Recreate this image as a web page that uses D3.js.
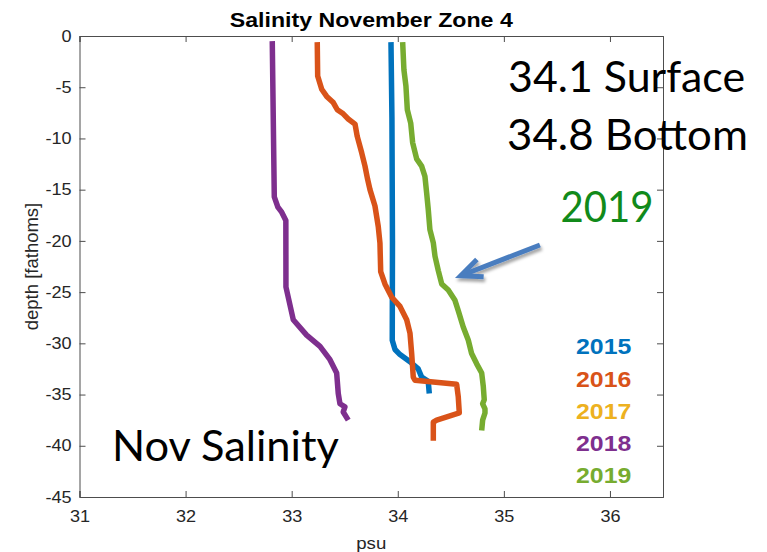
<!DOCTYPE html>
<html>
<head>
<meta charset="utf-8">
<script src="https://cdn.jsdelivr.net/npm/d3@7"></script>
<style>
  body { margin: 0; background: #fff; }
</style>
</head>
<body>
<script>

// ---- data ----
var years  = ["2015", "2016", "2017", "2018", "2019"];
var colors = ["#0072BD", "#D95319", "#EDB120", "#7E2F8E", "#77AC30"];

var psu2015   = [33.936, 33.945, 33.950, 33.948, 33.974, 34.021, 34.115, 34.193, 34.225, 34.287, 34.297];
var depth2015 = [-0.6, -8, -20, -29.7, -30.6, -31.1, -31.8, -32.5, -33.3, -33.7, -34.9];

var psu2016   = [33.241, 33.245, 33.283, 33.330, 33.392, 33.430, 33.486, 33.533, 33.597, 33.618, 33.660, 33.691, 33.716, 33.738, 33.785, 33.816, 33.832, 33.839, 33.879, 33.943, 34.021, 34.084, 34.115, 34.131, 34.146, 34.162, 34.555, 34.570, 34.580, 34.367, 34.335, 34.335];
var depth2016 = [-0.6, -3.9, -5.2, -5.9, -6.5, -7.2, -7.6, -8.1, -8.6, -9.8, -11.4, -12.7, -14, -15, -16.6, -18.6, -20.2, -23.0, -24.2, -25.5, -26.4, -27.7, -29, -31, -33.3, -33.6, -34.0, -35.2, -36.8, -37.5, -37.7, -39.5];

var psu2018   = [32.817, 32.836, 32.870, 32.906, 32.945, 32.946, 33.015, 33.141, 33.267, 33.361, 33.424, 33.439, 33.455, 33.502, 33.486, 33.533];
var depth2018 = [-0.5, -15.7, -16.7, -17.2, -18.0, -24.5, -27.7, -29.2, -30.3, -31.6, -32.9, -34.9, -35.9, -36.2, -36.7, -37.5];

var psu2019   = [34.046, 34.058, 34.077, 34.090, 34.122, 34.140, 34.178, 34.225, 34.256, 34.272, 34.287, 34.303, 34.335, 34.351, 34.382, 34.414, 34.476, 34.539, 34.570, 34.617, 34.665, 34.696, 34.744, 34.791, 34.806, 34.815, 34.800, 34.822, 34.822, 34.800, 34.791];
var depth2019 = [-0.6, -3.3, -4.9, -7.2, -8.5, -10.4, -12.0, -12.7, -13.7, -15.3, -16.9, -18.9, -20.2, -21.5, -22.9, -24.2, -24.8, -25.8, -26.8, -28.4, -29.7, -31, -32, -32.9, -34.2, -35.5, -35.9, -36.4, -36.8, -37.5, -38.5];

var xTicks = [31, 32, 33, 34, 35, 36];
var yTicks = [0, -5, -10, -15, -20, -25, -30, -35, -40, -45];

// text boxes laid over the figure, in data units
var notes = [
  { text: "34.1 Surface", x: 35.04, y: -5.45,  color: "#000", len: 237 },
  { text: "34.8 Bottom",  x: 35.03, y: -11.13, color: "#000", len: 241 },
  { text: "2019",         x: 35.535, y: -18.2, color: "#118a1a", len: 93 },
  { text: "Nov Salinity", x: 31.306, y: -41.5, color: "#000", len: 227 }
];
var legendX = 35.68, legendY = [-31.08, -34.25, -37.40, -40.50, -43.63];
var arrowTail = [35.34, -20.4], arrowTip = [34.593, -23.4];

// ---- svg ----
var W = 767, H = 552;
var svg = d3.select("body").append("svg")
  .attr("width", W)
  .attr("height", H)
  .style("font-family", "'Liberation Sans', Arial, sans-serif");

var x = d3.scaleLinear().domain([31, 36.5]).range([79.5, 663]);
var y = d3.scaleLinear().domain([-45, 0]).range([497, 36]);

var stretch = 1.13;   // the matlab figure is a bit wider than tall in the slide
var axisColor = "#262626";
var plain = function(d) { return String(d); };   // hyphen minus, like matlab

// axes (box on, ticks inward)
var gx = svg.append("g").attr("transform", "translate(0," + y(-45) + ")")
  .call(d3.axisBottom(x).tickValues(xTicks).tickSize(-6).tickPadding(14).tickFormat(plain));
var gy = svg.append("g").attr("transform", "translate(" + x(31) + ",0)")
  .call(d3.axisLeft(y).tickValues(yTicks).tickSize(-6).tickPadding(7).tickFormat(plain));
var gt = svg.append("g").attr("transform", "translate(0," + y(0) + ")")
  .call(d3.axisTop(x).tickValues(xTicks).tickSize(-6).tickFormat(""));
var gr = svg.append("g").attr("transform", "translate(" + x(36.5) + ",0)")
  .call(d3.axisRight(y).tickValues(yTicks).tickSize(-6).tickFormat(""));

[gx, gy, gt, gr].forEach(function(g) {
  g.select(".domain").attr("stroke", "#4d4d4d").attr("stroke-width", 1);
  g.selectAll(".tick line").attr("stroke", "#4d4d4d");
  g.selectAll("text")
    .attr("fill", axisColor)
    .style("font-size", "16px")
    .style("font-family", "'Liberation Sans', Arial, sans-serif");
});
gx.selectAll(".tick text").attr("transform", "scale(" + stretch + ",1)");
gy.selectAll(".tick text").attr("transform", "scale(" + stretch + ",1)");

// title + axis labels
svg.append("text")
  .attr("transform", "translate(" + (x(31) + x(36.5)) / 2 + ",27) scale(" + stretch + ",1)")
  .attr("text-anchor", "middle")
  .style("font-weight", "bold")
  .style("font-size", "20.5px")
  .attr("fill", "#000")
  .text("Salinity November Zone 4");

svg.append("text")
  .attr("transform", "translate(" + (x(31) + x(36.5)) / 2 + ",549) scale(" + stretch + ",1)")
  .attr("text-anchor", "middle")
  .style("font-size", "16.5px")
  .attr("fill", axisColor)
  .text("psu");

svg.append("text")
  .attr("transform", "translate(38," + (y(0) + y(-45)) / 2 + ") rotate(-90)")
  .attr("text-anchor", "middle")
  .style("font-size", "18.5px")
  .attr("fill", axisColor)
  .text("depth [fathoms]");

// profiles
var series = [
  { year: "2015", psu: psu2015, depth: depth2015 },
  { year: "2016", psu: psu2016, depth: depth2016 },
  { year: "2018", psu: psu2018, depth: depth2018 },
  { year: "2019", psu: psu2019, depth: depth2019 }
];

var line = d3.line()
  .x(function(d) { return x(d[0]); })
  .y(function(d) { return y(d[1]); });

svg.selectAll(".profile").data(series)
  .enter().append("path")
    .attr("class", "profile")
    .attr("fill", "none")
    .attr("stroke", function(d) { return colors[years.indexOf(d.year)]; })
    .attr("stroke-width", 5.5)
    .attr("stroke-linejoin", "round")
    .attr("d", function(d) { return line(d3.zip(d.psu, d.depth)); });

// legend (text only, coloured)
svg.selectAll(".leg").data(years)
  .enter().append("text")
    .attr("class", "leg")
    .attr("transform", function(d, i) { return "translate(" + x(legendX) + "," + y(legendY[i]) + ") scale(" + stretch + ",1)"; })
    .style("font-weight", "bold")
    .style("font-size", "22px")
    .attr("fill", function(d, i) { return colors[i]; })
    .text(function(d) { return d; });

// slide annotations
svg.selectAll(".note").data(notes)
  .enter().append("text")
    .attr("class", "note")
    .attr("x", function(d) { return x(d.x); })
    .attr("y", function(d) { return y(d.y); })
    .attr("textLength", function(d) { return d.len; })
    .attr("lengthAdjust", "spacingAndGlyphs")
    .style("font-family", "Lato, 'Open Sans', sans-serif")
    .style("font-size", "42px")
    .attr("fill", function(d) { return d.color; })
    .text(function(d) { return d.text; });

// arrow pointing at 2019 profile
var defs = svg.append("defs");
var f = defs.append("filter").attr("id", "shadow")
  .attr("x", "-20%").attr("y", "-20%").attr("width", "150%").attr("height", "160%");
f.append("feDropShadow").attr("dx", 1.5).attr("dy", 3).attr("stdDeviation", 1.8)
  .attr("flood-color", "#000").attr("flood-opacity", 0.35);

var tx = x(arrowTail[0]), ty = y(arrowTail[1]);
var hx = x(arrowTip[0]),  hy = y(arrowTip[1]);
var ang = Math.atan2(ty - hy, tx - hx);
var headLen = 23, spread = 24 * Math.PI / 180;
var a1 = [hx + headLen * Math.cos(ang - spread), hy + headLen * Math.sin(ang - spread)];
var a2 = [hx + headLen * Math.cos(ang + spread), hy + headLen * Math.sin(ang + spread)];

var ga = svg.append("g").attr("filter", "url(#shadow)")
  .attr("fill", "none").attr("stroke", "#4a7dbf").attr("stroke-width", 5);
ga.append("path").attr("d", "M" + tx + "," + ty + "L" + hx + "," + hy);
ga.append("path")
  .attr("stroke-linejoin", "miter")
  .attr("d", "M" + a1 + "L" + hx + "," + hy + "L" + a2);

</script>
</body>
</html>
